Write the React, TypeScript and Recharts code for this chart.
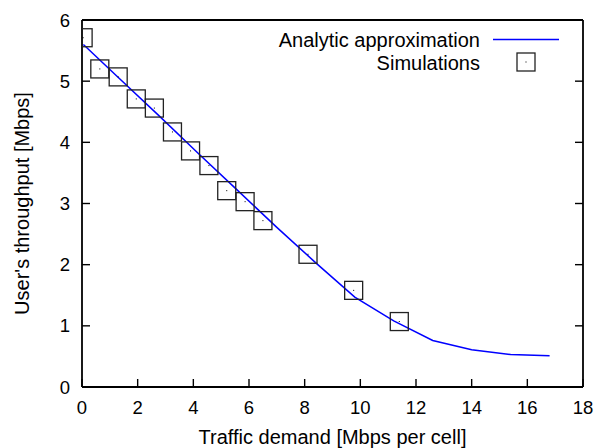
import React from "react";
import { ComposedChart, Line, Scatter, XAxis, YAxis } from "recharts";

const lineX = [0.05, 1.4, 2.8, 4.2, 5.6, 7.0, 8.4, 9.8, 11.2, 12.6, 14.0, 15.4, 16.8];
const lineY = [5.6, 5.02, 4.42, 3.81, 3.21, 2.61, 2.03, 1.47, 1.08, 0.76, 0.61, 0.53, 0.51];
const simX = [0.04, 0.64, 1.3, 1.95, 2.6, 3.25, 3.9, 4.56, 5.2, 5.86, 6.5, 8.12, 9.76, 11.4];
const simY = [5.71, 5.2, 5.07, 4.71, 4.56, 4.17, 3.86, 3.62, 3.21, 3.03, 2.72, 2.17, 1.58, 1.07];
const xTicks = [0, 2, 4, 6, 8, 10, 12, 14, 16, 18];
const yTicks = [0, 1, 2, 3, 4, 5, 6];
const xDomain = [0, 18];
const yDomain = [0, 6];

const lineData = lineX.map((x, i) => ({ x, y: lineY[i] }));
const simData = simX.map((x, i) => ({ x, y: simY[i] }));

const FONT = "'Liberation Sans', Arial, Helvetica, sans-serif";
const TFS = 18.5;
const LFS = 20;
const TL = 8;

const W = 607;
const H = 448;
const M = { top: 19, right: 23, bottom: 0, left: 0 };
const AXIS_LINE = { stroke: "#000", strokeWidth: 1.8 };

const BottomTick = (p: any) => (
  <g>
    <path d={`M${p.x},${p.y}L${p.x},${p.y - TL}`} stroke="#000" strokeWidth={1.4} fill="none" />
    <text x={p.x} y={p.y + 26.5} textAnchor="middle" fontSize={TFS} fontFamily={FONT} fill="#000">
      {p.payload.value}
    </text>
  </g>
);
const TopTick = (p: any) => (
  <path d={`M${p.x},${p.y}L${p.x},${p.y + TL}`} stroke="#000" strokeWidth={1.4} fill="none" />
);
const LeftTick = (p: any) => (
  <g>
    <path d={`M${p.x},${p.y}L${p.x + TL},${p.y}`} stroke="#000" strokeWidth={1.4} fill="none" />
    <text x={p.x - 12} y={p.y + 6.6} textAnchor="end" fontSize={TFS} fontFamily={FONT} fill="#000">
      {p.payload.value}
    </text>
  </g>
);
const RightTick = (p: any) => (
  <path d={`M${p.x},${p.y}L${p.x - TL},${p.y}`} stroke="#000" strokeWidth={1.4} fill="none" />
);

const SquareShape = (p: any) => {
  const { cx, cy } = p;
  return (
    <g>
      <rect x={cx - 9} y={cy - 9} width={18} height={18} fill="none" stroke="#222" strokeWidth={1.3} />
      <rect x={cx - 0.5} y={cy - 0.5} width={1} height={1} fill="#000" />
    </g>
  );
};

export default function App() {
  return (
    <div style={{ position: "absolute", left: 0, top: 0, width: W, height: H, background: "#fff" }}>
      <ComposedChart width={W} height={H} margin={M}>
        <XAxis
          dataKey="x"
          type="number"
          domain={xDomain}
          ticks={xTicks}
          allowDataOverflow
          height={61}
          tickSize={0}
          tickMargin={0}
          tick={<BottomTick />}
          stroke="#000"
          axisLine={AXIS_LINE}
          interval={0}
          label={{
            content: (props: any) => {
              const vb = props.viewBox;
              return (
                <text x={vb.x + vb.width / 2} y={443.5} textAnchor="middle" fontSize={LFS} fontFamily={FONT} fill="#000">
                  Traffic demand [Mbps per cell]
                </text>
              );
            },
          }}
        />
        <XAxis
          xAxisId="top"
          orientation="top"
          type="number"
          domain={xDomain}
          ticks={xTicks}
          allowDataOverflow
          height={1}
          tickSize={0}
          tickMargin={0}
          tick={<TopTick />}
          stroke="#000"
          axisLine={AXIS_LINE}
          interval={0}
        />
        <YAxis
          type="number"
          domain={yDomain}
          ticks={yTicks}
          allowDataOverflow
          width={82}
          tickSize={0}
          tickMargin={0}
          tick={<LeftTick />}
          stroke="#000"
          axisLine={AXIS_LINE}
          interval={0}
          label={{
            content: (props: any) => {
              const vb = props.viewBox;
              const cy = vb.y + vb.height / 2;
              return (
                <text
                  x={29}
                  y={cy}
                  transform={`rotate(-90, 29, ${cy})`}
                  textAnchor="middle"
                  fontSize={LFS}
                  fontFamily={FONT}
                  fill="#000"
                >
                  User's throughput [Mbps]
                </text>
              );
            },
          }}
        />
        <YAxis
          yAxisId="right"
          orientation="right"
          type="number"
          domain={yDomain}
          ticks={yTicks}
          allowDataOverflow
          width={1}
          tickSize={0}
          tickMargin={0}
          tick={<RightTick />}
          stroke="#000"
          axisLine={AXIS_LINE}
          interval={0}
        />
        <Line
          data={lineData}
          dataKey="y"
          type="linear"
          stroke="#0000ff"
          strokeWidth={1.5}
          dot={false}
          activeDot={false}
          isAnimationActive={false}
        />
        <Scatter data={simData} dataKey="y" shape={<SquareShape />} isAnimationActive={false} />
      </ComposedChart>
      <svg width={W} height={H} style={{ position: "absolute", left: 0, top: 0, pointerEvents: "none" }}>
        <text x={480} y={46.5} textAnchor="end" fontSize={LFS} fontFamily={FONT} fill="#000">
          Analytic approximation
        </text>
        <path d="M493,39.5L559,39.5" stroke="#0000ff" strokeWidth={1.5} />
        <text x={480} y={69.5} textAnchor="end" fontSize={LFS} fontFamily={FONT} fill="#000">
          Simulations
        </text>
        <rect x={517} y={53} width={18} height={18} fill="none" stroke="#222" strokeWidth={1.3} />
        <rect x={525.5} y={61.5} width={1} height={1} fill="#000" />
      </svg>
    </div>
  );
}
